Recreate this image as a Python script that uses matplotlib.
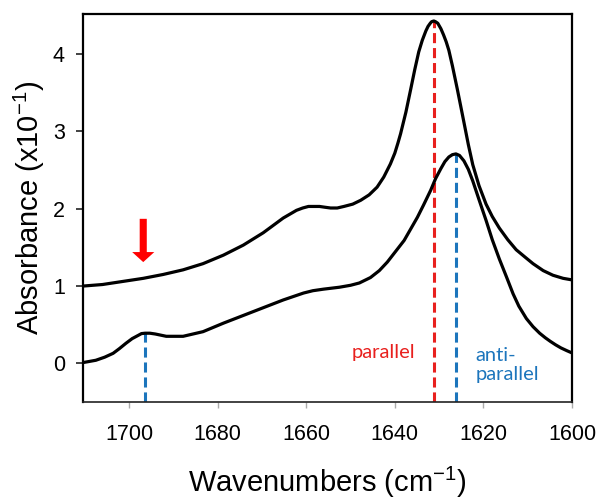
import matplotlib
matplotlib.use("Agg")
import matplotlib.pyplot as plt
from matplotlib.patches import FancyArrow

plt.rcParams['font.family'] = ['Liberation Sans', 'DejaVu Sans']
plt.rcParams['mathtext.fontset'] = 'custom'
plt.rcParams['mathtext.rm'] = 'Liberation Sans'
plt.rcParams['mathtext.it'] = 'Liberation Sans'

# Upper spectrum (offset by +1)
upper_wn = [1710.4, 1706.0, 1701.4, 1696.8, 1692.3, 1687.8, 1683.3, 1678.7,
            1674.2, 1669.7, 1665.2, 1662.2, 1660.8, 1659.5, 1657.0, 1655.8,
            1654.5, 1653.0, 1651.5, 1649.5, 1647.7, 1645.8, 1644.0, 1642.5,
            1641.0, 1640.0, 1639.3, 1638.7, 1637.5, 1636.4, 1635.5, 1634.6,
            1633.8, 1633.0, 1632.5, 1632.0, 1631.7, 1631.2, 1630.8, 1630.3,
            1629.6, 1629.0, 1628.4, 1627.8, 1627.0, 1625.9, 1625.2, 1624.4,
            1623.4, 1622.4, 1621.0, 1619.4, 1618.0, 1616.4, 1614.5, 1612.6,
            1610.5, 1608.8, 1606.5, 1604.3, 1602.0, 1600.0]
upper_abs = [1.00, 1.02, 1.06, 1.10, 1.15, 1.21, 1.29, 1.40,
             1.53, 1.69, 1.88, 1.98, 2.01, 2.03, 2.03, 2.02,
             2.01, 2.01, 2.03, 2.06, 2.11, 2.18, 2.28, 2.41,
             2.58, 2.72, 2.85, 2.97, 3.25, 3.55, 3.80, 4.03,
             4.18, 4.30, 4.36, 4.40, 4.42, 4.43, 4.42, 4.40,
             4.33, 4.25, 4.16, 4.05, 3.85, 3.55, 3.35, 3.12,
             2.83, 2.57, 2.30, 2.06, 1.90, 1.75, 1.60, 1.47,
             1.37, 1.29, 1.20, 1.14, 1.10, 1.08]

# Lower spectrum
lower_wn = [1710.4, 1707.5, 1705.5, 1703.6, 1702.2, 1700.7, 1699.3, 1698.0,
            1697.2, 1696.4, 1695.3, 1694.1, 1691.6, 1687.8, 1683.3, 1678.7,
            1674.2, 1669.7, 1665.2, 1660.6, 1658.5, 1656.1, 1652.5, 1650.0,
            1648.0, 1645.5, 1643.5, 1641.7, 1639.8, 1637.9, 1636.4, 1634.9,
            1633.5, 1631.9, 1630.8, 1629.6, 1628.7, 1627.8, 1627.0, 1626.2,
            1625.4, 1624.4, 1623.4, 1622.4, 1621.0, 1619.4, 1618.0, 1616.4,
            1614.8, 1613.3, 1612.0, 1610.3, 1608.8, 1607.3, 1606.0, 1604.9,
            1603.7, 1602.5, 1601.2, 1600.0]
lower_abs = [0.01, 0.04, 0.08, 0.13, 0.19, 0.26, 0.32, 0.36,
             0.385, 0.39, 0.39, 0.38, 0.35, 0.35, 0.41, 0.52,
             0.62, 0.72, 0.82, 0.91, 0.94, 0.96, 0.985, 1.01,
             1.04, 1.11, 1.20, 1.31, 1.45, 1.59, 1.74, 1.89,
             2.05, 2.24, 2.39, 2.52, 2.61, 2.67, 2.70, 2.71,
             2.69, 2.62, 2.51, 2.36, 2.12, 1.85, 1.60, 1.35,
             1.12, 0.90, 0.74, 0.58, 0.475, 0.39, 0.33, 0.285,
             0.24, 0.20, 0.165, 0.135]

# Band markers: (wavenumber, height of the mark)
parallel_band = (1631.2, 4.43)
antiparallel_band = (1626.2, 2.71)
high_freq_band = (1696.4, 0.39)

x_ticks = [1700, 1680, 1660, 1640, 1620, 1600]
y_ticks = [0, 1, 2, 3, 4]

RED = '#e8201e'
BLUE = '#1c75bc'

fig = plt.figure(figsize=(5.98, 5.0), dpi=100)
ax = fig.add_axes([0.1388, 0.196, 0.8177, 0.776])

ymin, ymax = -0.5, 4.52
ax.set_xlim(1710.4, 1600)
ax.set_ylim(ymin, ymax)

ax.plot(upper_wn, upper_abs, color='black', lw=2.3, solid_joinstyle='round',
        solid_capstyle='round', zorder=3)
ax.plot(lower_wn, lower_abs, color='black', lw=2.3, solid_joinstyle='round',
        solid_capstyle='round', zorder=3)

dash = (0, (3.3, 1.6))
ax.plot([parallel_band[0]] * 2, [ymin, parallel_band[1]], color=RED, lw=2.2, ls=dash, zorder=2)
ax.plot([antiparallel_band[0]] * 2, [ymin, antiparallel_band[1]], color=BLUE, lw=2.2, ls=dash, zorder=2)
ax.plot([high_freq_band[0]] * 2, [ymin, high_freq_band[1]], color=BLUE, lw=2.2, ls=dash, zorder=2)

# Red downward arrow over the upper spectrum
ax.add_patch(FancyArrow(1696.8, 1.87, 0, -0.56, width=1.6, head_width=5.0,
                        head_length=0.13, length_includes_head=True,
                        color='#ff0000', lw=0, zorder=4))

ax.text(1642.5, 0.14, 'parallel', color=RED, fontsize=14.5, family=['Lato', 'DejaVu Sans'],
        ha='center', va='center')
ax.text(1621.7, -0.02, 'anti-\nparallel', color=BLUE, fontsize=14.5, family=['Lato', 'DejaVu Sans'],
        ha='left', va='center', linespacing=1.15)

ax.set_xticks(x_ticks)
ax.set_yticks(y_ticks)
ax.set_xticklabels([str(t) for t in x_ticks])
ax.set_yticklabels([str(t) for t in y_ticks])
ax.tick_params(axis='x', direction='out', length=4, width=1, color='#aaaaaa',
               labelsize=15.5, pad=12)
ax.tick_params(axis='y', direction='out', length=5, width=1.2, color='#222222',
               labelsize=15.5, pad=8)

for side in ['top', 'right', 'left']:
    ax.spines[side].set_linewidth(1.6)
    ax.spines[side].set_color('black')
ax.spines['bottom'].set_linewidth(1.2)
ax.spines['bottom'].set_color('#222222')

ax.set_xlabel(r'Wavenumbers (cm$^{\mathregular{-1}}$)', fontsize=21, labelpad=14)
ax.set_ylabel(r'Absorbance (x10$^{\mathregular{-1}}$)', fontsize=21, labelpad=4)

fig.savefig('out.png', dpi=100)
